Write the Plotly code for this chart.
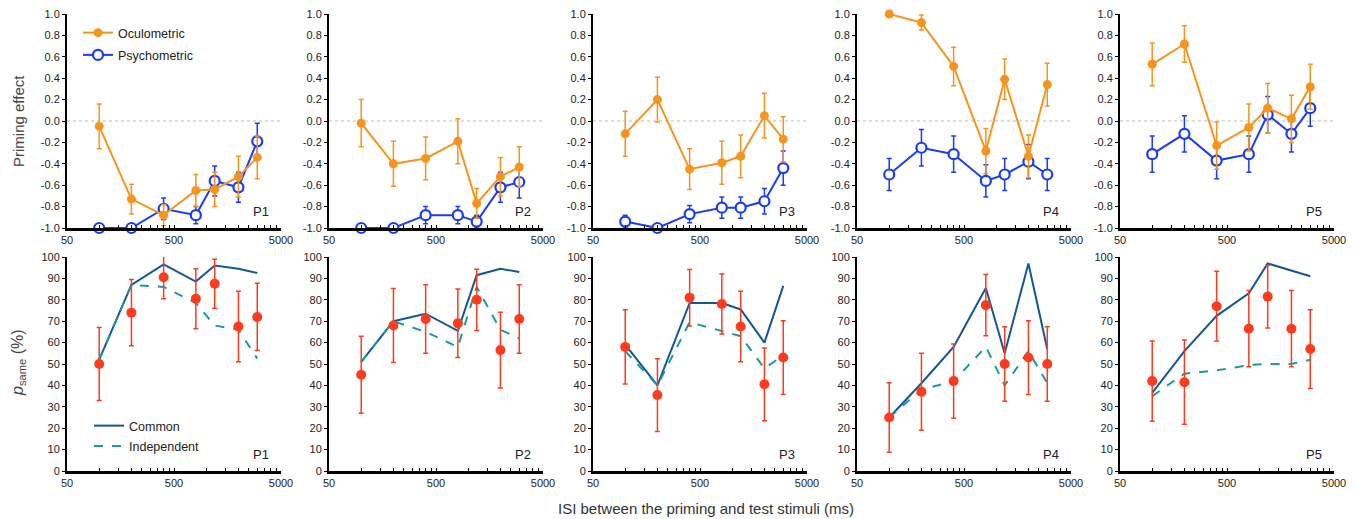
import plotly.graph_objects as go

isi = [100, 200, 400, 800, 1200, 2000, 3000]
panels = ["P1", "P2", "P3", "P4", "P5"]

oculo = [
    [-0.05, -0.73, -0.88, -0.65, -0.64, -0.52, -0.34],
    [-0.02, -0.40, -0.35, -0.19, -0.77, -0.52, -0.43],
    [-0.12, 0.20, -0.45, -0.39, -0.33, 0.05, -0.17],
    [1.00, 0.92, 0.51, -0.28, 0.39, -0.33, 0.34],
    [0.53, 0.72, -0.23, -0.06, 0.12, 0.02, 0.32],
]
oculo_err = [
    [0.21, 0.14, 0.10, 0.15, 0.16, 0.19, 0.20],
    [0.22, 0.21, 0.20, 0.21, 0.14, 0.18, 0.19],
    [0.21, 0.21, 0.19, 0.20, 0.20, 0.21, 0.21],
    [0.00, 0.07, 0.18, 0.21, 0.19, 0.20, 0.20],
    [0.20, 0.17, 0.22, 0.22, 0.23, 0.22, 0.21],
]
psycho = [
    [-1.00, -1.00, -0.82, -0.88, -0.56, -0.62, -0.19],
    [-1.00, -1.00, -0.88, -0.88, -0.94, -0.62, -0.57],
    [-0.94, -1.00, -0.87, -0.81, -0.81, -0.75, -0.44],
    [-0.50, -0.25, -0.31, -0.56, -0.50, -0.38, -0.50],
    [-0.31, -0.12, -0.37, -0.31, 0.06, -0.12, 0.12],
]
psycho_err = [
    [0.00, 0.00, 0.10, 0.08, 0.14, 0.14, 0.17],
    [0.00, 0.00, 0.08, 0.08, 0.06, 0.14, 0.15],
    [0.06, 0.00, 0.08, 0.10, 0.10, 0.12, 0.16],
    [0.15, 0.17, 0.17, 0.15, 0.15, 0.16, 0.15],
    [0.17, 0.17, 0.17, 0.17, 0.17, 0.17, 0.17],
]
observed = [
    [50, 74, 90.5, 80.5, 87.5, 67.5, 72],
    [45, 68, 71, 69, 80, 56.5, 71],
    [58, 35.5, 81, 78, 67.5, 40.5, 53],
    [25, 37, 42, 77.5, 50, 53, 50],
    [42, 41.5, 77, 66.5, 81.5, 66.5, 57],
]
observed_err = [
    [17, 15.5, 10, 14, 11.5, 16.5, 15.7],
    [18, 17.3, 16, 16, 14.3, 17.7, 16],
    [17.4, 17, 13.2, 14, 16.5, 17, 17.2],
    [16.2, 18, 17.4, 14.3, 17.4, 17.2, 17.4],
    [18.8, 19.7, 16.3, 17.8, 14.7, 17.8, 18.4],
]
common = [
    [52, 87, 96.5, 88.5, 96, 94.5, 92.5],
    [51, 70, 73.5, 65.5, 91.5, 94.5, 93],
    [59, 40, 78.5, 78.5, 75.5, 60, 86.5],
    [25, 41, 58, 85.5, 55, 97, 57],
    [36.5, 56, 72.5, 83, 97, 93.5, 91],
]
independent = [
    [52, 87, 86, 78.5, 68, 66, 52.5],
    [51, 70, 65, 58, 86, 66, 62],
    [56, 40, 69.5, 65.5, 63, 48, 54],
    [25, 38, 42, 58, 40, 56, 41],
    [35, 45.5, 47, 49.5, 50, 50, 52],
]

x_tickvals = [50, 100, 150, 200, 250, 300, 350, 400, 450, 500,
              1000, 1500, 2000, 2500, 3000, 3500, 4000, 4500, 5000]
x_ticktext = ["50" if v == 50 else "500" if v == 500 else "5000" if v == 5000 else "" for v in x_tickvals]
prime_tickvals = [-1.0, -0.8, -0.6, -0.4, -0.2, 0.0, 0.2, 0.4, 0.6, 0.8, 1.0]
prime_ticktext = ["-1.0", "-0.8", "-0.6", "-0.4", "-0.2", "0.0", "0.2", "0.4", "0.6", "0.8", "1.0"]
psame_tickvals = [0, 10, 20, 30, 40, 50, 60, 70, 80, 90, 100]

W, H = 1356, 519
ORANGE = "#F7941D"
BLUE = "#1A3CF5"
RED = "#FF3B1F"
COMMON = "#135796"
INDEP = "#1A9A98"
FONT = "Liberation Sans, Arial, Helvetica, sans-serif"

lefts = [67, 329, 593, 857, 1120]
pw = 214
top_row = (14, 228)
bot_row = (257, 471)

fig = go.Figure()
layout = dict(
    width=W, height=H, autosize=False,
    margin=dict(l=0, r=0, t=0, b=0, pad=0, autoexpand=False),
    paper_bgcolor="white", plot_bgcolor="white",
    font=dict(family=FONT, size=11, color="#222"),
    showlegend=True,
)

def axname(i):
    return ("xaxis" if i == 0 else f"xaxis{i+1}", "yaxis" if i == 0 else f"yaxis{i+1}",
            "x" if i == 0 else f"x{i+1}", "y" if i == 0 else f"y{i+1}")

annotations = []
shapes = []
for row in range(2):
    for c in range(5):
        i = row * 5 + c
        xa, ya, xr, yr = axname(i)
        l = lefts[c]
        t, b = top_row if row == 0 else bot_row
        layout[xa] = dict(
            domain=[l / W, (l + pw) / W], anchor=yr, type="log",
            range=[1.69897, 3.69897], showline=True, linecolor="black", linewidth=2.5,
            ticks="inside", ticklen=3, tickwidth=1, tickcolor="black",
            tickvals=x_tickvals, ticktext=x_ticktext, showgrid=False, zeroline=False,
            tickfont=dict(size=11, color="#222"), automargin=False,
        )
        if row == 0:
            layout[ya] = dict(
                domain=[1 - b / H, 1 - t / H], anchor=xr, range=[-1, 1],
                tickvals=prime_tickvals, ticktext=prime_ticktext,
                showline=True, linecolor="black", linewidth=2, ticks="outside",
                ticklen=3, tickwidth=1, tickcolor="black", showgrid=False, zeroline=False,
                tickfont=dict(size=11, color="#222"), automargin=False,
            )
            shapes.append(dict(type="line", xref=f"{xr} domain", yref=yr, x0=0, x1=1, y0=0, y1=0,
                               line=dict(color="#BBBBBB", width=1, dash="dot"), layer="below"))
        else:
            layout[ya] = dict(
                domain=[1 - b / H, 1 - t / H], anchor=xr, range=[0, 100],
                tickvals=psame_tickvals,
                showline=True, linecolor="black", linewidth=2, ticks="outside",
                ticklen=3, tickwidth=1, tickcolor="black", showgrid=False, zeroline=False,
                tickfont=dict(size=11, color="#222"), automargin=False,
            )
        annotations.append(dict(text=panels[c], xref=f"{xr} domain", yref=f"{yr} domain",
                                x=0.905, y=0.075, xanchor="center", yanchor="middle",
                                showarrow=False, font=dict(size=13, color="#222", family=FONT)))

for c in range(5):
    xa, ya, xr, yr = axname(c)
    fig.add_trace(go.Scatter(
        x=isi, y=psycho[c], xaxis=xr, yaxis=yr, mode="lines+markers", name="Psychometric",
        line=dict(color=BLUE, width=2),
        marker=dict(symbol="circle", size=10, color="white", line=dict(color=BLUE, width=2.2)),
        error_y=dict(type="data", array=psycho_err[c], color=BLUE, thickness=1.5, width=2.5),
        cliponaxis=False, showlegend=(c == 0), legend="legend", legendrank=2,
        legendgroup="psy",
    ))
    fig.add_trace(go.Scatter(
        x=isi, y=oculo[c], xaxis=xr, yaxis=yr, mode="lines+markers", name="Oculometric",
        line=dict(color=ORANGE, width=2),
        marker=dict(symbol="circle", size=9, color=ORANGE),
        error_y=dict(type="data", array=oculo_err[c], color=ORANGE, thickness=1.5, width=2.5),
        cliponaxis=False, showlegend=(c == 0), legend="legend", legendrank=1,
        legendgroup="ocu",
    ))
    xa, ya, xr, yr = axname(c + 5)
    fig.add_trace(go.Scatter(
        x=isi, y=common[c], xaxis=xr, yaxis=yr, mode="lines", name="Common",
        line=dict(color=COMMON, width=2), cliponaxis=False,
        showlegend=(c == 0), legend="legend2", legendrank=1, legendgroup="com",
    ))
    fig.add_trace(go.Scatter(
        x=isi, y=independent[c], xaxis=xr, yaxis=yr, mode="lines", name="Independent",
        line=dict(color=INDEP, width=2, dash="dash"), cliponaxis=False,
        showlegend=(c == 0), legend="legend2", legendrank=2, legendgroup="ind",
    ))
    fig.add_trace(go.Scatter(
        x=isi, y=observed[c], xaxis=xr, yaxis=yr, mode="markers", name="Observed",
        marker=dict(symbol="circle", size=10, color=RED),
        error_y=dict(type="data", array=observed_err[c], color=RED, thickness=1.5, width=2.5),
        cliponaxis=False, showlegend=False,
    ))

layout["legend"] = dict(x=78 / W, y=1 - 18 / H, xanchor="left", yanchor="top",
                        bgcolor="rgba(0,0,0,0)", font=dict(size=12.5, color="#222", family=FONT),
                        tracegroupgap=3, itemwidth=30)
layout["legend2"] = dict(x=89 / W, y=1 - 411 / H, xanchor="left", yanchor="top",
                         bgcolor="rgba(0,0,0,0)", font=dict(size=12.5, color="#222", family=FONT),
                         tracegroupgap=1, itemwidth=30)

annotations.append(dict(text="Priming effect", xref="paper", yref="paper", x=18 / W, y=1 - 121 / H,
                        textangle=-90, showarrow=False, xanchor="center", yanchor="middle",
                        font=dict(size=15, color="#444", family=FONT)))
annotations.append(dict(text="<i>p</i><sub>same</sub> (%)", xref="paper", yref="paper", x=18 / W,
                        y=1 - 363 / H, textangle=-90, showarrow=False, xanchor="center",
                        yanchor="middle", font=dict(size=16, color="#444", family=FONT)))
annotations.append(dict(text="ISI between the priming and test stimuli (ms)", xref="paper",
                        yref="paper", x=706 / W, y=1 - 508 / H, showarrow=False, xanchor="center",
                        yanchor="middle", font=dict(size=15, color="#333", family=FONT)))

layout["annotations"] = annotations
layout["shapes"] = shapes
fig.update_layout(**layout)
fig.write_html("out.html", post_script="document.body.style.margin='0';")
